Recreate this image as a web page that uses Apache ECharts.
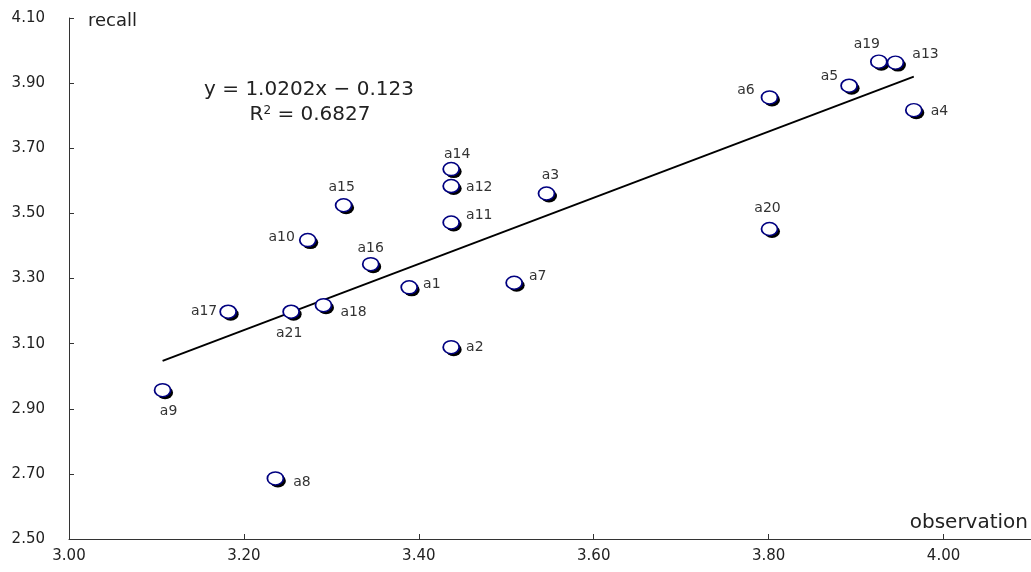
<!DOCTYPE html>
<html>
<head>
<meta charset="utf-8">
<title>recall vs observation</title>
<script src="https://cdn.jsdelivr.net/npm/echarts@6/dist/echarts.min.js"></script>
<style>
  html, body { margin: 0; padding: 0; background: #fff; }
  #chart { width: 1031px; height: 572px; }
</style>
</head>
<body>
<div id="chart"></div>
<script>
// point names and values (observation = x, recall = y)
const names = ['a1', 'a2', 'a3', 'a4', 'a5', 'a6', 'a7', 'a8', 'a9', 'a10', 'a11',
  'a12', 'a13', 'a14', 'a15', 'a16', 'a17', 'a18', 'a19', 'a20', 'a21']
const observation = [3.389, 3.437, 3.546, 3.966, 3.892, 3.801, 3.509, 3.236, 3.107, 3.273, 3.437,
  3.437, 3.945, 3.437, 3.314, 3.345, 3.182, 3.291, 3.926, 3.801, 3.254]
const recall = [3.273, 3.089, 3.561, 3.817, 3.892, 3.856, 3.287, 2.686, 2.957, 3.418, 3.472,
  3.584, 3.963, 3.636, 3.525, 3.344, 3.198, 3.218, 3.966, 3.452, 3.198]

// trend line end points
const trendX = [3.107, 3.966]
const trendY = [3.047, 3.92]

// axis ticks
const xTicks = [3.0, 3.2, 3.4, 3.6, 3.8, 4.0]
const yTicks = [2.5, 2.7, 2.9, 3.1, 3.3, 3.5, 3.7, 3.9, 4.1]

const equation = 'y = 1.0202x \u2212 0.123'
const rSquared = '0.6827'

// label placement per point: [position, distance, offsetX, offsetY]
const labelPlace = {
  a1: ['right', 5, 0, -3],
  a2: ['right', 6, 0, 0],
  a3: ['top', 4, 4, 0],
  a4: ['right', 8, 0, 1],
  a5: ['left', 2, 0, -9],
  a6: ['left', 6, 0, -7],
  a7: ['right', 6, 0, -6],
  a8: ['right', 9, 0, 4],
  a9: ['bottom', 7, 6, 0],
  a10: ['left', 4, 0, -3],
  a11: ['right', 6, 0, -7],
  a12: ['right', 6, 0, 1],
  a13: ['right', 8, 0, -8],
  a14: ['top', 1, 6, 0],
  a15: ['top', 4, -2, 0],
  a16: ['top', 2, 0, 0],
  a17: ['left', 2, 0, 0],
  a18: ['right', 8, 0, 7],
  a19: ['top', 3, -12, 0],
  a20: ['top', 6, -2, 0],
  a21: ['bottom', 7, -2, 0]
}

const FONT = "'DejaVu Sans', Verdana, sans-serif"
const TEXT = '#222'

const chart = echarts.init(document.getElementById('chart'))

const points = names.map((n, i) => {
  const p = labelPlace[n]
  return {
    name: n,
    value: [observation[i], recall[i]],
    label: { position: p[0], distance: p[1], offset: [p[2], p[3]] }
  }
})
const shadows = names.map((n, i) => [observation[i], recall[i]])

const step = (arr) => +(arr[1] - arr[0]).toFixed(2)

chart.setOption({
  animation: false,
  backgroundColor: '#fff',
  grid: { left: 69, right: 0, top: 18, bottom: 33 },
  xAxis: {
    type: 'value',
    min: xTicks[0],
    max: 4.1,
    interval: step(xTicks),
    axisLine: { lineStyle: { color: '#333', width: 1 } },
    axisTick: { inside: true, length: 5, lineStyle: { color: '#333' } },
    axisLabel: {
      showMaxLabel: false,
      margin: 10,
      color: TEXT,
      fontSize: 15,
      fontFamily: FONT,
      formatter: (v) => v.toFixed(2)
    },
    splitLine: { show: false }
  },
  yAxis: {
    type: 'value',
    min: yTicks[0],
    max: yTicks[yTicks.length - 1],
    interval: step(yTicks),
    axisLine: { show: true, lineStyle: { color: '#333', width: 1 } },
    axisTick: { show: true, inside: true, length: 5, lineStyle: { color: '#333' } },
    axisLabel: {
      margin: 24,
      color: TEXT,
      fontSize: 15,
      fontFamily: FONT,
      formatter: (v) => v.toFixed(2)
    },
    splitLine: { show: false }
  },
  graphic: [
    {
      type: 'text', x: 88, y: 21,
      style: { text: 'recall', fill: TEXT, font: '18px ' + FONT, align: 'left', verticalAlign: 'middle' }
    },
    {
      type: 'text', x: 1028, y: 523,
      style: { text: 'observation', fill: TEXT, font: '20px ' + FONT, align: 'right', verticalAlign: 'middle' }
    },
    {
      type: 'text', x: 309, y: 90,
      style: { text: equation, fill: TEXT, font: '20px ' + FONT, align: 'center', verticalAlign: 'middle' }
    },
    {
      type: 'text', x: 310, y: 115,
      style: {
        text: '{r|R}{s|2}{r| = ' + rSquared + '}',
        align: 'center',
        verticalAlign: 'middle',
        rich: {
          r: { fill: TEXT, font: '20px ' + FONT },
          s: { fill: TEXT, font: '12px ' + FONT, verticalAlign: 'top', padding: [0, 0, 9, 0] }
        }
      }
    }
  ],
  series: [
    {
      name: 'trend',
      type: 'line',
      data: trendX.map((x, i) => [x, trendY[i]]),
      showSymbol: false,
      lineStyle: { color: '#000', width: 2 },
      z: 1,
      silent: true
    },
    {
      name: 'shadow',
      type: 'scatter',
      data: shadows,
      symbol: 'circle',
      symbolSize: [16, 13],
      symbolOffset: [2.5, 2.5],
      itemStyle: { color: '#000', opacity: 1 },
      z: 2,
      silent: true
    },
    {
      name: 'points',
      type: 'scatter',
      data: points,
      symbol: 'circle',
      symbolSize: [16, 13],
      itemStyle: {
        color: '#fff',
        borderColor: '#000080',
        borderWidth: 1.6,
        opacity: 1
      },
      label: {
        show: true,
        formatter: '{b}',
        color: '#333',
        fontSize: 14,
        fontFamily: FONT
      },
      z: 3
    }
  ]
})
</script>
</body>
</html>
